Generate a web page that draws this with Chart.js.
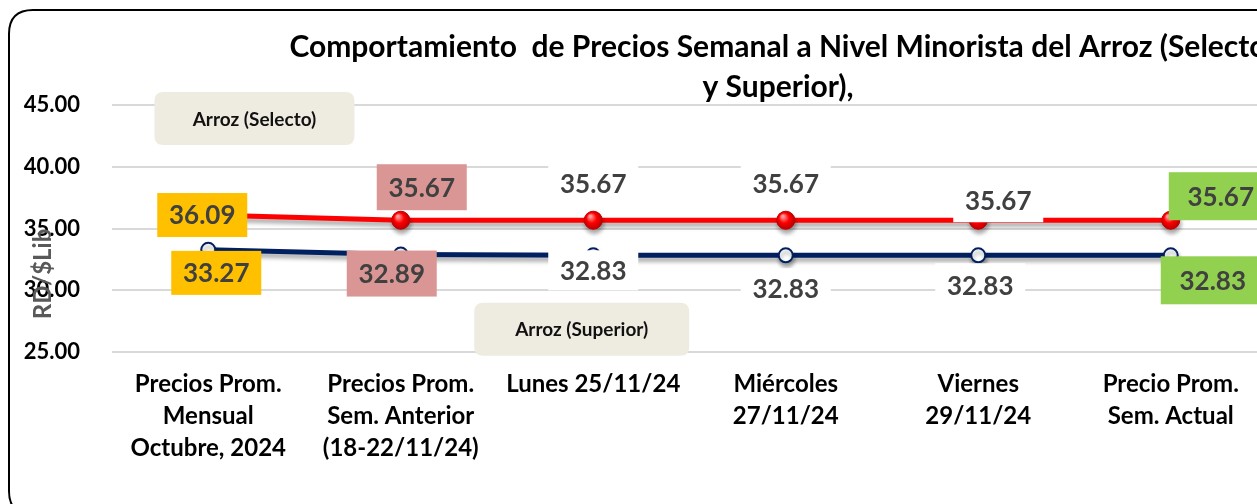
<!DOCTYPE html>
<html>
<head>
<meta charset="utf-8">
<script src="https://cdn.jsdelivr.net/npm/chart.js@4.4.1/dist/chart.umd.min.js"></script>
<style>
  html, body { margin: 0; padding: 0; background: #fff; overflow: hidden; }
  #wrap { width: 1280px; height: 504px; position: relative; }
</style>
</head>
<body>
<div id="wrap"><canvas id="precioChart" width="1280" height="504"></canvas></div>
<script>
// Chart data
const categories = [
    ['Precios Prom.', 'Mensual', 'Octubre, 2024'],
    ['Precios Prom.', 'Sem. Anterior', '(18-22/11/24)'],
    'Lunes 25/11/24',
    ['Miércoles', '27/11/24'],
    ['Viernes', '29/11/24'],
    ['Precio Prom.', 'Sem. Actual']
];
const selecto = [36.09, 35.67, 35.67, 35.67, 35.67, 35.67];
const superior = [33.27, 32.89, 32.83, 32.83, 32.83, 32.83];
const yTicks = [25, 30, 35, 40, 45];

const titleLines = ['Comportamiento  de Precios Semanal a Nivel Minorista del Arroz (Selecto', 'y Superior),'];
const yTitle = 'RD/$Lib';

// Label styling (box colour per category, offsets from the point)
const labelFills = ['#FFC000', '#DA9694', '#FFFFFF', '#FFFFFF', '#FFFFFF', '#92D050'];
const selectoOffsets = [[-6, 0], [21, -33], [0, -37], [0, -37], [20, -20], [50, -24]];
const superiorOffsets = [[8, 23], [-9, 19], [0, 15], [0, 33], [2, 30], [42, 25]];
const boxSizes = [[90, 44], [90, 46], [90, 40], [90, 40], [90, 44], [104, 48]];

// Callout boxes, anchored on the scales
const callouts = [
    { text: 'Arroz (Selecto)', x: 0.24, y: 43.9, w: 200, h: 53 },
    { text: 'Arroz (Superior)', x: 1.94, y: 26.85, w: 215, h: 53 }
];

const FONT = 'Lato, "Open Sans", sans-serif';

function roundRect(ctx, x, y, w, h, r) {
    ctx.beginPath();
    ctx.moveTo(x + r, y);
    ctx.lineTo(x + w - r, y);
    ctx.quadraticCurveTo(x + w, y, x + w, y + r);
    ctx.lineTo(x + w, y + h - r);
    ctx.quadraticCurveTo(x + w, y + h, x + w - r, y + h);
    ctx.lineTo(x + r, y + h);
    ctx.quadraticCurveTo(x, y + h, x, y + h - r);
    ctx.lineTo(x, y + r);
    ctx.quadraticCurveTo(x, y, x + r, y);
    ctx.closePath();
}

// Shadow under lines and markers
const shadowPlugin = {
    id: 'lineShadow',
    beforeDatasetDraw(chart) {
        const ctx = chart.ctx;
        ctx.save();
        ctx.shadowColor = 'rgba(0,0,0,0.35)';
        ctx.shadowBlur = 4;
        ctx.shadowOffsetX = 1;
        ctx.shadowOffsetY = 4;
    },
    afterDatasetDraw(chart) {
        chart.ctx.restore();
    }
};

// Glossy highlight on red markers + value labels
const labelPlugin = {
    id: 'valueLabels',
    afterDatasetsDraw(chart) {
        const ctx = chart.ctx;
        const redMeta = chart.getDatasetMeta(0);
        redMeta.data.forEach(pt => {
            const g = ctx.createRadialGradient(pt.x - 3, pt.y - 4, 1, pt.x, pt.y, 10);
            g.addColorStop(0, '#FF9A9A');
            g.addColorStop(0.45, '#FF0000');
            g.addColorStop(1, '#B00000');
            ctx.beginPath();
            ctx.arc(pt.x, pt.y, 9, 0, Math.PI * 2);
            ctx.fillStyle = g;
            ctx.fill();
        });

        const sets = [[selecto, selectoOffsets, 0], [superior, superiorOffsets, 1]];
        ctx.save();
        ctx.font = 'bold 26px ' + FONT;
        ctx.textAlign = 'center';
        ctx.textBaseline = 'middle';
        sets.forEach(([values, offsets, di]) => {
            const meta = chart.getDatasetMeta(di);
            meta.data.forEach((pt, i) => {
                const cx = pt.x + offsets[i][0];
                const cy = pt.y + offsets[i][1];
                const [w, h] = boxSizes[i];
                ctx.fillStyle = labelFills[i];
                ctx.fillRect(cx - w / 2, cy - h / 2, w, h);
                ctx.fillStyle = '#404040';
                ctx.fillText(values[i].toFixed(2), cx, cy + 1);
            });
        });
        ctx.restore();
    },
    afterDraw(chart) {
        const ctx = chart.ctx;
        const xs = chart.scales.x, ys = chart.scales.y;
        ctx.save();

        // callouts
        callouts.forEach(c => {
            const cx = xs.getPixelForValue(c.x);
            const cy = ys.getPixelForValue(c.y);
            roundRect(ctx, cx - c.w / 2, cy - c.h / 2, c.w, c.h, 9);
            ctx.fillStyle = '#EEECE1';
            ctx.fill();
            ctx.fillStyle = '#111';
            ctx.font = 'bold 19px ' + FONT;
            ctx.textAlign = 'center';
            ctx.textBaseline = 'middle';
            ctx.fillText(c.text, cx, cy + 1);
        });

        // title
        ctx.fillStyle = '#000';
        ctx.font = 'bold 30px ' + FONT;
        ctx.textAlign = 'center';
        ctx.textBaseline = 'alphabetic';
        ctx.fillText(titleLines[0], 778, 57);
        ctx.fillText(titleLines[1], 778, 97);

        // y axis title
        ctx.translate(43, 274);
        ctx.rotate(-Math.PI / 2);
        ctx.fillStyle = '#595959';
        ctx.font = 'bold 24px ' + FONT;
        ctx.textBaseline = 'middle';
        ctx.fillText(yTitle, 0, 0);
        ctx.setTransform(1, 0, 0, 1, 0, 0);

        // outer rounded frame
        roundRect(ctx, 9, 10, 1300, 505, 24);
        ctx.strokeStyle = '#000';
        ctx.lineWidth = 2;
        ctx.stroke();
        ctx.restore();
    }
};

new Chart(document.getElementById('precioChart'), {
    type: 'line',
    data: {
        labels: categories,
        datasets: [
            {
                label: 'Arroz (Selecto)',
                data: selecto,
                borderColor: '#FF0000',
                borderWidth: 5,
                pointRadius: 9,
                pointBackgroundColor: '#FF0000',
                pointBorderColor: '#C00000',
                pointBorderWidth: 1,
                tension: 0
            },
            {
                label: 'Arroz (Superior)',
                data: superior,
                borderColor: '#002060',
                borderWidth: 5,
                pointRadius: 7,
                pointBackgroundColor: '#FFFFFF',
                pointBorderColor: '#002060',
                pointBorderWidth: 2,
                tension: 0
            }
        ]
    },
    options: {
        responsive: false,
        animation: false,
        devicePixelRatio: 1,
        layout: { padding: { top: 105, right: 13, left: 0, bottom: 0 } },
        plugins: {
            legend: { display: false },
            tooltip: { enabled: false }
        },
        scales: {
            x: {
                offset: true,
                grid: { display: false, drawTicks: false },
                border: { display: false },
                ticks: {
                    color: '#000',
                    padding: 16,
                    maxRotation: 0,
                    autoSkip: false,
                    font: { family: FONT, size: 24, weight: 'bold', lineHeight: 32 / 24 }
                },
                afterFit(scale) { scale.height = 152; }
            },
            y: {
                min: 25,
                max: 45,
                afterBuildTicks(scale) { scale.ticks = yTicks.map(v => ({ value: v })); },
                grid: { color: '#D9D9D9', lineWidth: 2, drawTicks: false },
                border: { display: false },
                ticks: {
                    color: '#000',
                    padding: 32,
                    font: { family: FONT, size: 22, weight: 'bold' },
                    callback: v => Number(v).toFixed(2)
                },
                afterFit(scale) { scale.width = 112; }
            }
        }
    },
    plugins: [shadowPlugin, labelPlugin]
});
</script>
</body>
</html>
